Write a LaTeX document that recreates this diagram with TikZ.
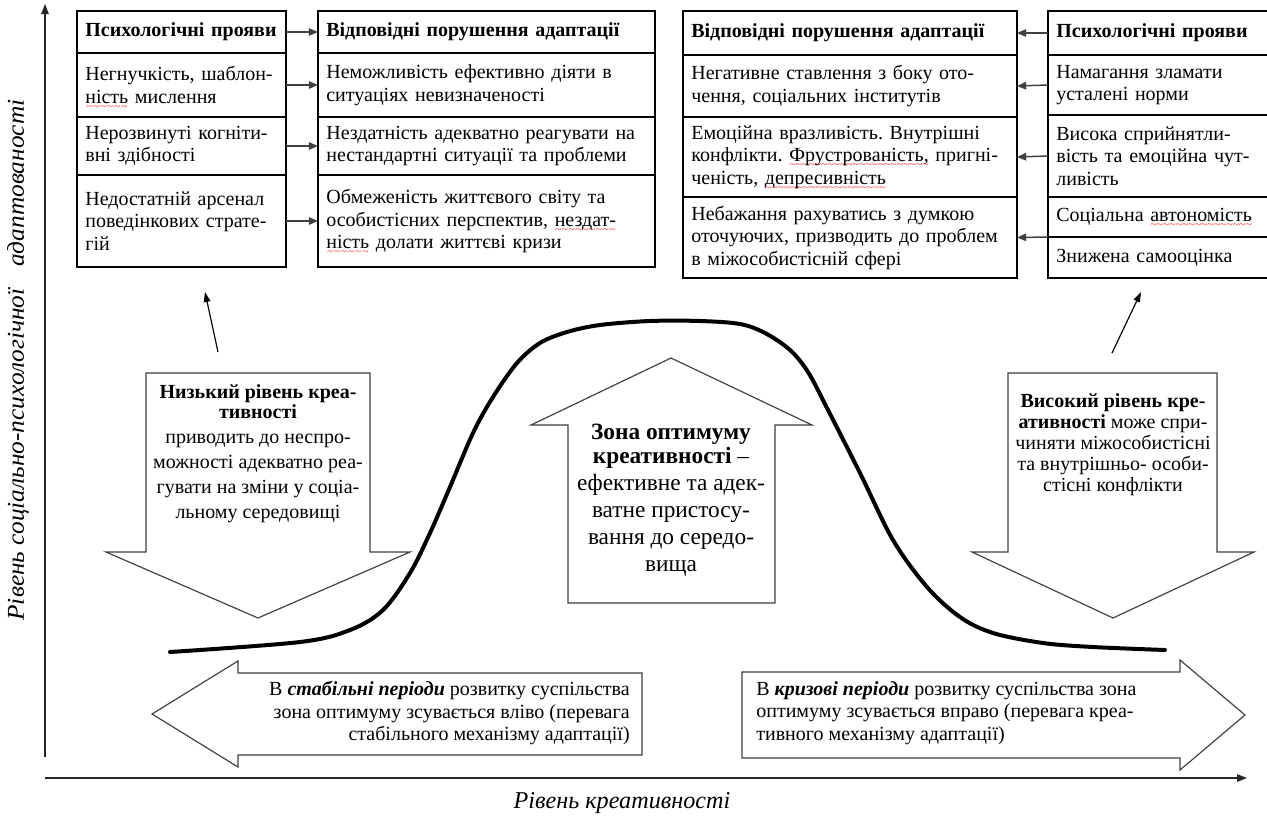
\documentclass[tikz,border=0pt]{standalone}
\usepackage{fontspec}
\setmainfont{Liberation Serif}
\usetikzlibrary{arrows.meta}
\frenchspacing
\newsavebox\sqbox
\newcommand\redwave[1]{\leavevmode\sbox\sqbox{#1}\rlap{\raisebox{-4.2pt}[0pt][0pt]{\hbox to \wd\sqbox{\color{red!80}\fontsize{7}{7}\selectfont\xleaders\hbox{\char"007E}\hfil}}}\usebox\sqbox}
\tikzset{
  cell/.style={draw=black, line width=0.9pt, inner xsep=5pt, inner ysep=0pt, outer sep=0pt,
    align=left, anchor=north west, font=\fontsize{12}{13.5}\selectfont},
  colA/.style={cell, minimum width=125.4pt, text width=115.4pt},
  colB/.style={cell, minimum width=202.2pt, text width=192.2pt},
  colC/.style={cell, minimum width=200.4pt, text width=190.4pt},
  colD/.style={cell, minimum width=133.2pt, text width=123.2pt},
  conn/.style={draw=black!75, line width=0.9pt, -{Triangle[length=5.5pt,width=4.5pt]}},
  bigarrow/.style={draw=black!75, line width=0.7pt, fill=white, line join=miter},
  curve/.style={draw=black, line width=2.4pt, line cap=round},
  axis/.style={draw=black!85, line width=0.8pt, -{Triangle[length=6pt,width=4.5pt]}},
  pointer/.style={draw=black, line width=0.7pt, -{Triangle[length=6pt,width=4pt]}},
  atext/.style={align=center, inner sep=0pt},
  btext/.style={inner sep=0pt, font=\fontsize{12}{13.5}\selectfont},
  axlab/.style={inner sep=0pt, font=\fontsize{14.5}{17}\selectfont\itshape}
}
\begin{document}
\begin{tikzpicture}[x=0.6pt,y=-0.6pt]
\useasboundingbox (0,0) rectangle (1267,816);

% ---------- left table ----------
\node[colA, minimum height=25.2pt] (lA0) at (77,11) {\textbf{Психологічні прояви}};
\node[colA, minimum height=38.4pt] (lA1) at (77,53) {Негнучкість, шаблон-\\\redwave{ність} мислення};
\node[colA, minimum height=34.8pt] (lA2) at (77,117) {Нерозвинуті когніти-\\вні здібності};
\node[colA, minimum height=55.2pt] (lA3) at (77,175) {Недостатній арсенал\\поведінкових страте-\\гій};

\node[colB, minimum height=25.2pt] (lB0) at (318,11) {\textbf{Відповідні порушення адаптації}};
\node[colB, minimum height=38.4pt] (lB1) at (318,53) {Неможливість ефективно діяти в\\ситуаціях невизначеності};
\node[colB, minimum height=34.8pt] (lB2) at (318,117) {Нездатність адекватно реагувати на\\нестандартні ситуації та проблеми};
\node[colB, minimum height=55.2pt] (lB3) at (318,175) {Обмеженість життєвого світу та\\особистісних перспектив, \redwave{нездат-}\\\redwave{ність} долати життєві кризи};

\draw[conn] (lA0.east) -- (lB0.west);
\draw[conn] (lA1.east) -- (lB1.west);
\draw[conn] (lA2.east) -- (lB2.west);
\draw[conn] (lA3.east) -- (lB3.west);

% ---------- right table ----------
\node[colC, minimum height=26.4pt] (rC0) at (683,11) {\textbf{Відповідні порушення адаптації}};
\node[colC, minimum height=37.2pt] (rC1) at (683,55) {Негативне ставлення з боку ото-\\чення, соціальних інститутів};
\node[colC, minimum height=48pt] (rC2) at (683,117) {Емоційна вразливість. Внутрішні\\конфлікти. \redwave{Фрустрованість,} пригні-\\ченість, \redwave{депресивність}};
\node[colC, minimum height=48.6pt] (rC3) at (683,197) {Небажання рахуватись з думкою\\оточуючих, призводить до проблем\\в міжособистісній сфері};

\node[colD, minimum height=26.4pt] (rD0) at (1048,11) {\textbf{Психологічні прояви}};
\node[colD, minimum height=36pt] (rD1) at (1048,55) {Намагання зламати\\усталені норми};
\node[colD, minimum height=49.2pt] (rD2) at (1048,115) {Висока сприйнятли-\\вість та емоційна чут-\\ливість};
\node[colD, minimum height=24pt] (rD3) at (1048,197) {Соціальна \redwave{автономість}};
\node[colD, minimum height=24.6pt] (rD4) at (1048,237) {Знижена самооцінка};

\draw[conn] (rD0.west) -- (rC0.east);
\draw[conn] (rD1.west) -- (rC1.east);
\draw[conn] (rD2.west) -- (rC2.east);
\draw[conn] (rD3.south west) -- (rC3.east);

% ---------- big block arrows ----------
\draw[bigarrow] (146,373) -- (370,373) -- (370,552) -- (410,552) -- (258,618) -- (106,552) -- (146,552) -- cycle;
\node[atext, font=\fontsize{12}{15}\selectfont] (lowtxt) at (258,454)
  {\textbf{Низький рівень креа-}\\[-3pt]\textbf{тивності}\\приводить до неспро-\\можності адекватно реа-\\гувати на зміни у соціа-\\льному середовищі};

\draw[bigarrow] (671,358) -- (812,425) -- (775,425) -- (775,603) -- (568,603) -- (568,425) -- (531,425) -- cycle;
\node[atext, font=\fontsize{14}{16.2}\selectfont] (opttxt) at (671,500)
  {\textbf{Зона оптимуму}\\[-1.8pt]\textbf{креативності} –\\ефективне та адек-\\ватне пристосу-\\вання до середо-\\вища};

\draw[bigarrow] (1008,373) -- (1217,373) -- (1217,552) -- (1254,552) -- (1113,618) -- (972,552) -- (1008,552) -- cycle;
\node[atext, font=\fontsize{12}{12.6}\selectfont] (hightxt) at (1113,445)
  {\textbf{Високий рівень кре-}\\\textbf{ативності} може спри-\\чиняти міжособистісні\\та внутрішньо- особи-\\стісні конфлікти};

% ---------- bell curve ----------
\draw[curve] plot[smooth, tension=0.55] coordinates {
  (170,652) (300,642) (350,630) (383,610) (410,573) (430,533) (450,487)
  (473,433) (493,397) (517,363) (540,343) (567,332) (600,325) (650,321)
  (700,321) (740,324) (765,333) (790,350) (808,372) (827,408) (860,473)
  (893,540) (927,587) (960,617) (993,633) (1043,643) (1093,647) (1165,650)};

% ---------- pointers to tables ----------
\coordinate (pl1) at (218,352);
\coordinate (pl2) at (205,292);
\draw[pointer] (pl1) -- (pl2);
\coordinate (pr1) at (1112,353);
\coordinate (pr2) at (1141,292);
\draw[pointer] (pr1) -- (pr2);

% ---------- bottom horizontal arrows ----------
\draw[bigarrow] (642,673) -- (238,673) -- (238,661) -- (152,714) -- (238,767) -- (238,755) -- (642,755) -- cycle;
\node[btext, align=right, anchor=east] (stabtxt) at (630,713)
  {В \textbf{\textit{стабільні періоди}} розвитку суспільства\\зона оптимуму зсувається вліво (перевага\\стабільного механізму адаптації)};

\draw[bigarrow] (742,672) -- (1180,672) -- (1180,660) -- (1245,715) -- (1180,770) -- (1180,758) -- (742,758) -- cycle;
\node[btext, align=left, anchor=west] (crisistxt) at (756,713)
  {В \textbf{\textit{кризові періоди}} розвитку суспільства зона\\оптимуму зсувається вправо (перевага креа-\\тивного механізму адаптації)};

% ---------- axes ----------
\coordinate (yb) at (45,757);
\coordinate (yt) at (45,4);
\draw[axis] (yb) -- (yt);
\coordinate (xl) at (45,778);
\coordinate (xr) at (1247,778);
\draw[axis] (xl) -- (xr);
\node[axlab, rotate=90] (ylab) at (18,360) {\scalebox{1.05}[1]{Рівень соціально-психологічної\hspace{0.6em} адаптованості}};
\node[axlab] (xlab) at (622,803) {Рівень креативності};
\end{tikzpicture}
\end{document}
